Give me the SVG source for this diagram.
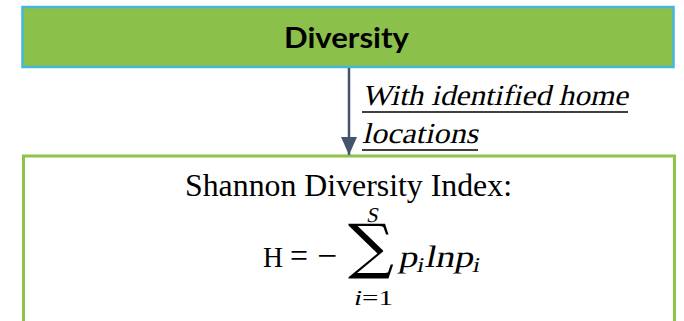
<svg xmlns="http://www.w3.org/2000/svg" width="684" height="321" viewBox="0 0 684 321">
<style>
.serif{font-family:"Liberation Serif","Times New Roman",serif;fill:#000}
</style>
<defs>
<marker id="ah" markerWidth="18" markerHeight="16" refX="18" refY="8" orient="auto" markerUnits="userSpaceOnUse" viewBox="0 0 18 16">
<path d="M0,0 L18,8 L0,16 Z" fill="#44546A"/>
</marker>
</defs>
<rect width="684" height="321" fill="#fff"/>
<g id="node-diversity">
<rect x="22.5" y="7" width="651" height="60" fill="#8BC14A" stroke="#45B6DC" stroke-width="2.5"/>
<text x="346.5" y="48" font-family="Lato,'Open Sans',sans-serif" font-weight="bold" font-size="29" text-anchor="middle" textLength="125" lengthAdjust="spacingAndGlyphs">Diversity</text>
</g>
<g id="node-shannon">
<rect x="23.5" y="156" width="651" height="180" fill="#fff" stroke="#8DC447" stroke-width="3"/>
<text class="serif" x="185" y="196" font-size="31" textLength="327" lengthAdjust="spacingAndGlyphs">Shannon Diversity Index:</text>
<g id="formula">
<text class="serif" x="263" y="267" font-size="30" textLength="20" lengthAdjust="spacingAndGlyphs">H</text>
<text class="serif" x="290" y="267" font-size="34" textLength="18" lengthAdjust="spacingAndGlyphs">=</text>
<text class="serif" x="317" y="267" font-size="34" textLength="20" lengthAdjust="spacingAndGlyphs">−</text>
<text x="348" y="267" font-family="'DejaVu Serif',serif" font-size="60" textLength="46" lengthAdjust="spacingAndGlyphs">∑</text>
<text class="serif" transform="translate(0,222) skewX(-12)" x="366" y="0" font-size="21">S</text>
<text class="serif" x="354" y="305" font-size="21" textLength="39" lengthAdjust="spacingAndGlyphs"><tspan font-style="italic">i</tspan>=1</text>
<text class="serif" transform="translate(0,267) skewX(-12)" x="398" y="0" font-size="31" textLength="82" lengthAdjust="spacingAndGlyphs">p<tspan font-size="21" dy="5">i</tspan><tspan dy="-5">lnp</tspan><tspan font-size="21" dy="5">i</tspan></text>
</g>
</g>
<g id="connectors">
<line x1="349" y1="68" x2="349" y2="145" stroke="#44546A" stroke-width="2.5"/>
<line x1="349" y1="140" x2="349" y2="155" stroke="#44546A" stroke-width="2.5" marker-end="url(#ah)"/>
<text class="serif" transform="translate(0,105) skewX(-13)" x="362" y="0" font-size="29" textLength="266" lengthAdjust="spacingAndGlyphs">With identified home</text>
<line x1="362" y1="112" x2="628" y2="112" stroke="#000" stroke-width="1.5"/>
<text class="serif" transform="translate(0,143) skewX(-13)" x="362" y="0" font-size="29" textLength="116" lengthAdjust="spacingAndGlyphs">locations</text>
<line x1="362" y1="150" x2="478" y2="150" stroke="#000" stroke-width="1.5"/>
</g>
</svg>
